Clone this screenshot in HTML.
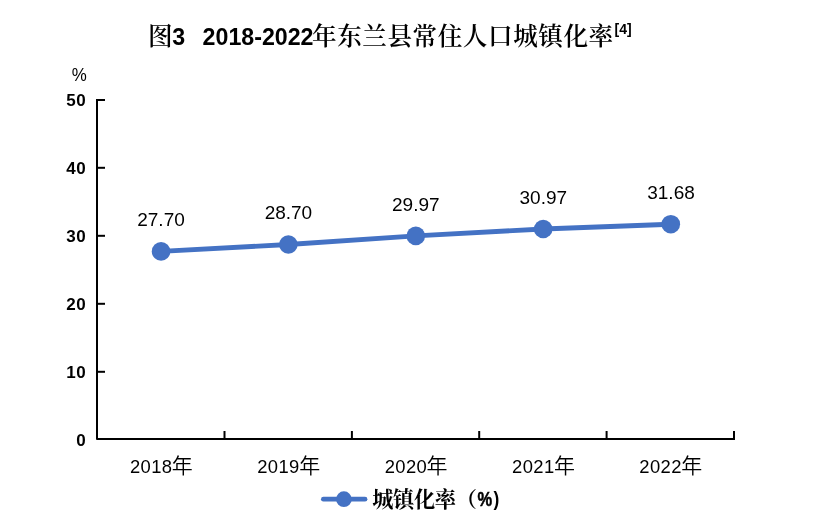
<!DOCTYPE html>
<html lang="zh-CN">
<head>
<meta charset="utf-8">
<title>图3 2018-2022年东兰县常住人口城镇化率</title>
<style>
html,body{margin:0;padding:0;background:#fff;}
body{width:822px;height:532px;overflow:hidden;position:relative;}
svg{display:block;position:absolute;left:0;top:0;}
.lat{font-family:"Liberation Sans","Noto Sans CJK SC",sans-serif;}
.title-cjk{font-family:"Liberation Serif","Noto Serif CJK SC",serif;font-weight:600;}
.title-lat{font-family:"Liberation Sans","Noto Sans CJK SC",sans-serif;font-weight:700;}
.ylab{font-family:"Liberation Sans",sans-serif;font-weight:700;font-size:17px;fill:#000;}
.dlab{font-family:"Liberation Sans",sans-serif;font-size:19px;fill:#000;}
.xlab{font-family:"Liberation Sans","Noto Sans CJK SC",sans-serif;font-size:18.4px;fill:#000;letter-spacing:0.4px;}
.xlab .cjk{font-size:21px;font-weight:350;letter-spacing:0;}
.legc{font-family:"Liberation Serif","Noto Serif CJK SC",serif;font-weight:700;fill:#000;}
.legl{font-family:"Liberation Sans",sans-serif;font-weight:700;fill:#000;}
</style>
</head>
<body>
<svg width="822" height="532" viewBox="0 0 822 532">
  <rect x="0" y="0" width="822" height="532" fill="#ffffff"/>

  <!-- Title -->
  <text x="147.9" y="45" font-size="24.6px" fill="#000"><tspan class="title-cjk">图</tspan><tspan class="title-lat" font-size="23.2px" x="172.3">3</tspan><tspan class="title-lat" font-size="23.2px" x="202.6">2018-2022</tspan><tspan class="title-cjk" x="312" letter-spacing="0.55">年东兰县常住人口城镇化率</tspan><tspan class="title-lat" font-size="14px" x="614.5" y="34.2">[4]</tspan></text>

  <!-- unit -->
  <text class="dlab" transform="translate(79.3,81.2) scale(0.89,1)" x="0" y="0" text-anchor="middle">%</text>

  <!-- axes -->
  <g stroke="#000" stroke-width="2" fill="none" stroke-linecap="butt" stroke-linejoin="round">
    <polyline points="97,99 97,439 735,439"/>
  </g>
  <g stroke="#000" stroke-width="2" fill="none">
    <!-- y ticks -->
    <line x1="97" y1="100" x2="105" y2="100"/>
    <line x1="97" y1="167.8" x2="105" y2="167.8"/>
    <line x1="97" y1="235.8" x2="105" y2="235.8"/>
    <line x1="97" y1="303.8" x2="105" y2="303.8"/>
    <line x1="97" y1="371.8" x2="105" y2="371.8"/>
    <!-- x ticks -->
    <line x1="224.5" y1="431" x2="224.5" y2="439"/>
    <line x1="351.9" y1="431" x2="351.9" y2="439"/>
    <line x1="479.2" y1="431" x2="479.2" y2="439"/>
    <line x1="606.6" y1="431" x2="606.6" y2="439"/>
    <line x1="734" y1="431" x2="734" y2="439"/>
  </g>

  <!-- y labels -->
  <g class="ylab" text-anchor="end" letter-spacing="0.6">
    <text x="86.3" y="105.8">50</text>
    <text x="86.3" y="173.8">40</text>
    <text x="86.3" y="241.8">30</text>
    <text x="86.3" y="309.8">20</text>
    <text x="86.3" y="377.8">10</text>
    <text x="86.3" y="446">0</text>
  </g>

  <!-- series -->
  <polyline points="161.05,251.4 288.4,244.5 415.8,235.9 543.2,229 670.8,224.2" fill="none" stroke="#4472C4" stroke-width="4.9" stroke-linejoin="round" stroke-linecap="round"/>
  <g fill="#4472C4">
    <circle cx="161.05" cy="251.4" r="9.3"/>
    <circle cx="288.4" cy="244.5" r="9.3"/>
    <circle cx="415.8" cy="235.9" r="9.3"/>
    <circle cx="543.2" cy="229" r="9.3"/>
    <circle cx="670.8" cy="224.2" r="9.3"/>
  </g>

  <!-- data labels -->
  <g class="dlab" text-anchor="middle">
    <text x="161" y="226.3">27.70</text>
    <text x="288.4" y="219.3">28.70</text>
    <text x="415.8" y="211">29.97</text>
    <text x="543.3" y="204.1">30.97</text>
    <text x="671" y="199.1">31.68</text>
  </g>

  <!-- x labels -->
  <g class="xlab" text-anchor="middle">
    <text x="161.4" y="472.8">2018<tspan class="cjk" dx="-0.6">年</tspan></text>
    <text x="288.7" y="472.8">2019<tspan class="cjk" dx="-0.6">年</tspan></text>
    <text x="416.1" y="472.8">2020<tspan class="cjk" dx="-0.6">年</tspan></text>
    <text x="543.5" y="472.8">2021<tspan class="cjk" dx="-0.6">年</tspan></text>
    <text x="670.8" y="472.8">2022<tspan class="cjk" dx="-0.6">年</tspan></text>
  </g>

  <!-- legend -->
  <line x1="323.4" y1="499.2" x2="365" y2="499.2" stroke="#4472C4" stroke-width="4.8" stroke-linecap="round"/>
  <circle cx="343.9" cy="499.2" r="7.85" fill="#4472C4"/>
  <text class="legc" x="372.2" y="506.9" font-size="21.2px" letter-spacing="-0.3">城镇化率（</text>
  <text class="legl" transform="translate(477.6,505.7) scale(0.8,1)" x="0" y="0" font-size="20.6px" stroke="#000" stroke-width="0.5">%</text>
  <text class="legl" transform="translate(493.4,505.9) scale(0.85,1)" x="0" y="0" font-size="20.5px">)</text>
</svg>
</body>
</html>
